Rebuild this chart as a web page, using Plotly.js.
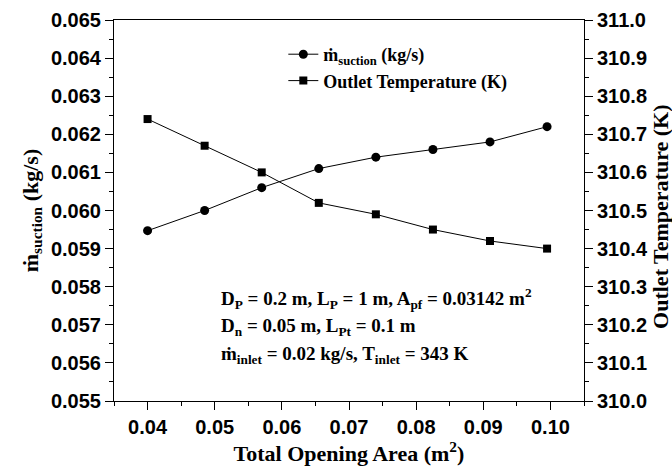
<!DOCTYPE html>
<html>
<head>
<meta charset="utf-8">
<script src="https://cdn.plot.ly/plotly-3.0.1.min.js"></script>
<style>
  html, body { margin: 0; padding: 0; background: #fff; }
  #chart { width: 672px; height: 467px; }
</style>
</head>
<body>
<div id="chart"></div>
<script>
// Total opening area of the nozzle (m^2)
const openingArea = [0.04, 0.0485, 0.057, 0.0655, 0.074, 0.0825, 0.091, 0.0995];
// Suction mass flow rate (kg/s), left axis
const mSuction = [0.05947, 0.0600, 0.0606, 0.0611, 0.0614, 0.0616, 0.0618, 0.0622];
// Outlet temperature (K), right axis
const outletTemp = [310.74, 310.67, 310.60, 310.52, 310.49, 310.45, 310.42, 310.40];

const seriesNames = ['ṁ<sub>suction</sub> (kg/s)', 'Outlet Temperature (K)'];
const infoLines = [
  'D<sub>P</sub> = 0.2 m, L<sub>P</sub> = 1 m, A<sub>pf</sub> = 0.03142 m<sup>2</sup>',
  'D<sub>n</sub> = 0.05 m, L<sub>Pt</sub> = 0.1 m',
  'ṁ<sub>inlet</sub> = 0.02 kg/s, T<sub>inlet</sub> = 343 K'
];

const serif = 'Liberation Serif, Times New Roman, serif';
const sans = 'Liberation Sans, Arial, sans-serif';

// plot frame in pixels
const W = 672, H = 467;
const L = 113.5, R = 584, T = 20, B = 401;
const px = x => (x - L) / (R - L);
const py = y => (B - y) / (B - T);

const traces = [
  {
    x: openingArea, y: mSuction, name: seriesNames[0],
    type: 'scatter', mode: 'lines+markers', yaxis: 'y',
    line: { color: '#000', width: 1 },
    marker: { symbol: 'circle', size: 9, color: '#000' }
  },
  {
    x: openingArea, y: outletTemp, name: seriesNames[1],
    type: 'scatter', mode: 'lines+markers', yaxis: 'y2',
    line: { color: '#000', width: 1 },
    marker: { symbol: 'square', size: 8, color: '#000' }
  }
];

const axisCommon = {
  showline: true, linecolor: '#000', linewidth: 1,
  ticks: 'outside', ticklen: 8, tickwidth: 1, tickcolor: '#000',
  showgrid: false, zeroline: false,
  tickfont: { family: sans, size: 20, color: '#000', weight: 'bold' }
};

const layout = {
  width: W, height: H,
  margin: { l: L, r: W - R, t: T, b: H - B, pad: 0 },
  paper_bgcolor: '#fff', plot_bgcolor: '#fff',
  showlegend: true,
  legend: {
    x: px(283), y: py(36), xanchor: 'left', yanchor: 'top',
    bgcolor: 'rgba(0,0,0,0)', borderwidth: 0,
    font: { family: serif, size: 18, color: '#000', weight: 'bold' },
    itemwidth: 30, tracegroupgap: 0
  },
  xaxis: Object.assign({}, axisCommon, {
    range: [0.035, 0.105], dtick: 0.01, tick0: 0.04, tickformat: '.2f',
    mirror: true,
    minor: { dtick: 0.005, tick0: 0.035, ticks: 'outside', ticklen: 4, tickcolor: '#000' },
    title: { text: 'Total Opening Area (m<sup>2</sup>)', standoff: 8,
             font: { family: serif, size: 22, color: '#000', weight: 'bold' } }
  }),
  yaxis: Object.assign({}, axisCommon, {
    range: [0.055, 0.065], dtick: 0.001, tick0: 0.055, tickformat: '.3f',
    minor: { dtick: 0.0005, ticks: 'outside', ticklen: 4, tickcolor: '#000' },
    title: { text: 'ṁ<sub>suction</sub> (kg/s)', standoff: 6,
             font: { family: serif, size: 22, color: '#000', weight: 'bold' } }
  }),
  yaxis2: Object.assign({}, axisCommon, {
    overlaying: 'y', side: 'right',
    range: [310.0, 311.0], dtick: 0.1, tick0: 310, tickformat: '.1f',
    minor: { dtick: 0.05, ticks: 'outside', ticklen: 4, tickcolor: '#000' }
  }),
  annotations: infoLines.map((t, i) => ({
    xref: 'paper', yref: 'paper', x: px(219), y: py([298, 327, 355][i]),
    xanchor: 'left', yanchor: 'middle', showarrow: false, align: 'left',
    text: t, font: { family: serif, size: 19, color: '#000', weight: 'bold' }
  })).concat([{
    xref: 'paper', yref: 'paper', x: px(660), y: py(217),
    xanchor: 'center', yanchor: 'middle', showarrow: false, textangle: -90,
    text: 'Outlet Temperature (K)',
    font: { family: serif, size: 22, color: '#000', weight: 'bold' }
  }])
};

Plotly.newPlot('chart', traces, layout, { staticPlot: true, displayModeBar: false });
</script>
</body>
</html>
